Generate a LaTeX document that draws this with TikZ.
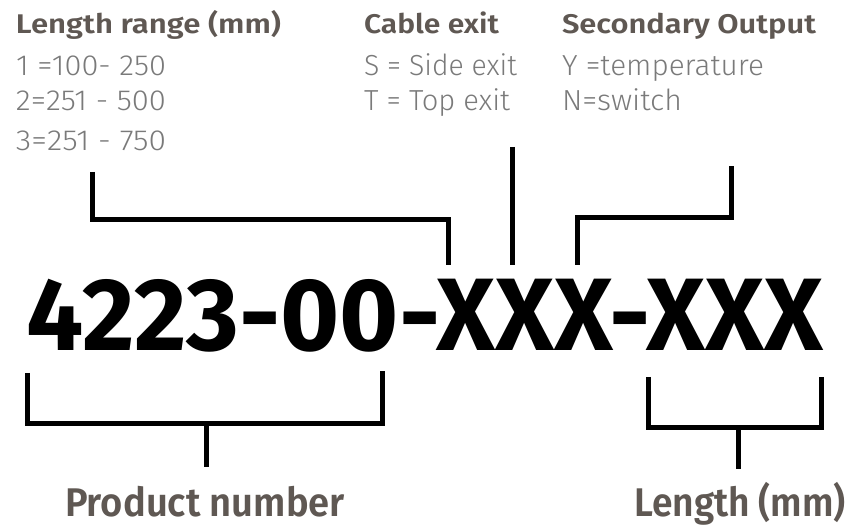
\documentclass[tikz,border=0pt]{standalone}
\usepackage{fontspec}
\usepackage{graphicx}
\setmainfont{Fira Sans}
\newfontfamily\lightfont{Fira Sans Light}
\newfontfamily\semifont{Fira Sans SemiBold}
\newfontfamily\boldfont{Fira Sans Bold}
\definecolor{headgray}{HTML}{5F5853}
\definecolor{lightgray}{HTML}{7A7A7A}
\newcommand\fitw[2]{\resizebox{#1}{\height}{#2}}
\tikzset{
  txt/.style={anchor=base west, inner sep=0pt, outer sep=0pt},
  head/.style={txt, text=headgray, font=\semifont\fontsize{27}{27}\selectfont},
  opt/.style={txt, text=lightgray, font=\lightfont\fontsize{29}{29}\selectfont},
  big/.style={txt, text=black, font=\boldfont\fontsize{103}{103}\selectfont},
  label/.style={txt, text=headgray, font=\semifont\fontsize{40}{40}\selectfont},
  brk/.style={line width=5pt, black, line cap=butt, line join=miter}
}
\begin{document}
\begin{tikzpicture}[x=1pt,y=-1pt]
\useasboundingbox (0,0) rectangle (852,526);
% top texts
\node[head] (h1) at (16,34) {\fitw{265pt}{Length range (mm)}};
\node[opt] (a1) at (16,76) {\fitw{150pt}{1 =100- 250}};
\node[opt] (a2) at (16,111) {\fitw{150pt}{2=251 - 500}};
\node[opt] (a3) at (16,151) {\fitw{150pt}{3=251 - 750}};
\node[head] (h2) at (364,34) {\fitw{135pt}{Cable exit}};
\node[opt] (b1) at (364,76) {\fitw{153pt}{S = Side exit}};
\node[opt] (b2) at (364,111) {\fitw{146pt}{T = Top exit}};
\node[head] (h3) at (562,34) {\fitw{254pt}{Secondary Output}};
\node[opt] (c1) at (562,76) {\fitw{202pt}{Y =temperature}};
\node[opt] (c2) at (562,111) {\fitw{120pt}{N=switch}};
% main code
\node[big] (code) at (27,351) {\fitw{796pt}{4223-00-XXX-XXX}};
% bottom labels
\node[label] (pn) at (65,517) {\fitw{280pt}{Product number}};
\node[label] (len) at (634,517) {\fitw{212pt}{Length (mm)}};
% connector coordinates
\coordinate (L1) at (92,172);
\coordinate (L2) at (448,265);
\coordinate (M1) at (512,147);
\coordinate (M2) at (512,265);
\coordinate (R1) at (577,265);
\coordinate (R2) at (731,166);
\coordinate (P1) at (27,373);
\coordinate (P2) at (382,371);
\coordinate (P3) at (206,467);
\coordinate (Q1) at (648,377);
\coordinate (Q2) at (821,377);
\coordinate (Q3) at (738,469);
% connectors
\draw[brk] (L1) |- (448,220) -- (L2);
\draw[brk] (M1) -- (M2);
\draw[brk] (R1) |- (731,218) -- (R2);
\draw[brk] (P1) |- (P2 |- 0,424) -- (P2);
\draw[brk] (P3) -- (P3 |- 0,424);
\draw[brk] (Q1) |- (Q2 |- 0,428) -- (Q2);
\draw[brk] (Q3) -- (Q3 |- 0,428);
\end{tikzpicture}
\end{document}
